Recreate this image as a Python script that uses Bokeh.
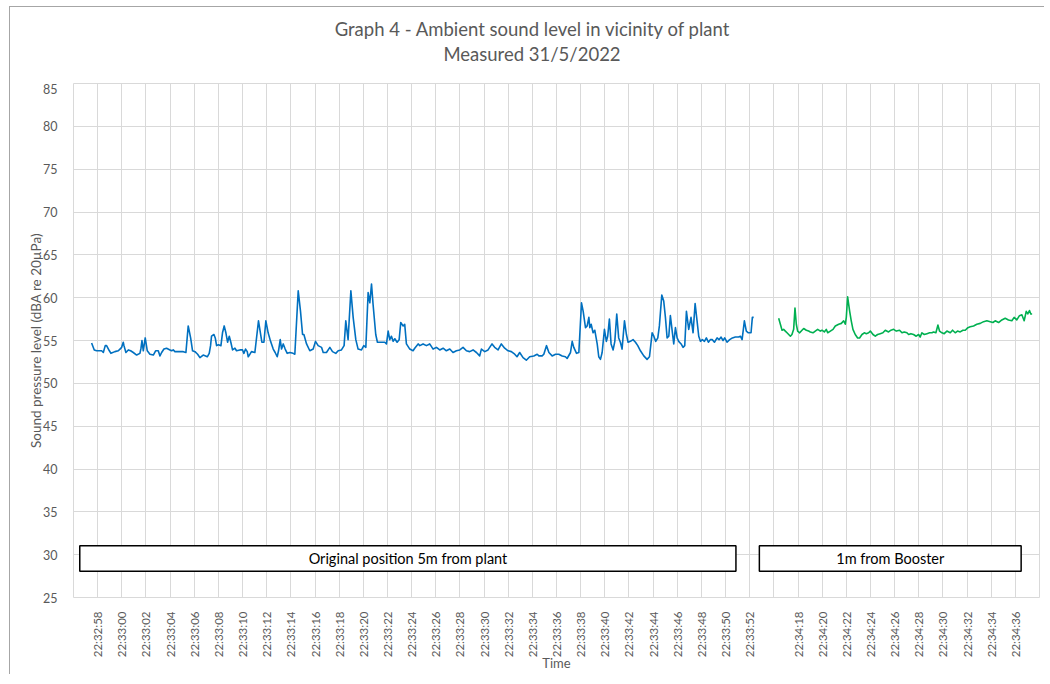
import math
from bokeh.plotting import figure
from bokeh.layouts import column
from bokeh.models import FixedTicker, Div, ColumnDataSource
from bokeh.core.properties import value
from bokeh.embed import file_html
from bokeh.resources import INLINE

# ---------------- data ----------------
# category tick labels (one slot every 2 s; one blank slot where the recording paused)
tick_labels = [
    "22:32:58", "22:33:00", "22:33:02", "22:33:04", "22:33:06", "22:33:08", "22:33:10",
    "22:33:12", "22:33:14", "22:33:16", "22:33:18", "22:33:20", "22:33:22", "22:33:24",
    "22:33:26", "22:33:28", "22:33:30", "22:33:32", "22:33:34", "22:33:36", "22:33:38",
    "22:33:40", "22:33:42", "22:33:44", "22:33:46", "22:33:48", "22:33:50", "22:33:52",
    "",
    "22:34:18", "22:34:20", "22:34:22", "22:34:24", "22:34:26", "22:34:28", "22:34:30",
    "22:34:32", "22:34:34", "22:34:36",
]
y_ticks = [25, 30, 35, 40, 45, 50, 55, 60, 65, 70, 75, 80, 85]

# Original position 5m from plant: seconds after 22:32:58, dBA
blue_t = [-0.50, -0.28, -0.08, 0.19, 0.33, 0.47, 0.63, 0.74, 0.97, 1.10, 1.43, 1.71, 1.85, 1.99, 2.12, 2.18,
          2.34, 2.54, 2.73, 2.95, 3.23, 3.50, 3.59, 3.67, 3.78, 3.94, 4.11, 4.33, 4.61, 4.80, 5.02, 5.16,
          5.30, 5.49, 5.71, 5.99, 6.12, 6.26, 6.40, 6.76, 7.09, 7.31, 7.50, 7.70, 7.86, 8.06, 8.28, 8.47,
          8.74, 8.94, 9.08, 9.24, 9.35, 9.43, 9.63, 9.74, 9.85, 10.01, 10.21, 10.34, 10.48, 10.62, 10.76,
          10.90, 11.03, 11.17, 11.37, 11.50, 11.78, 12.00, 12.11, 12.25, 12.39, 12.47, 12.61, 12.74, 13.02,
          13.32, 13.60, 13.77, 13.93, 14.12, 14.32, 14.54, 14.70, 14.87, 14.98, 15.12, 15.23, 15.37, 15.53,
          15.70, 15.92, 16.19, 16.33, 16.61, 16.80, 16.97, 17.08, 17.30, 17.57,
          17.85, 18.04, 18.26, 18.54, 18.68, 18.95, 19.23, 19.45, 19.72, 19.92, 20.19, 20.41, 20.55, 20.74,
          20.97, 21.16, 21.38, 21.57, 21.85, 22.04, 22.21, 22.40, 22.54, 22.68, 22.81, 23.03, 23.17, 23.37,
          23.78, 23.92, 24.06, 24.19, 24.33, 24.47, 24.61, 24.80, 24.97, 25.10, 25.30, 25.43, 25.57, 25.85,
          26.12, 26.26, 26.54, 26.68, 26.95, 27.23, 27.50, 27.78, 28.06, 28.33, 28.61, 28.88, 29.16, 29.43,
          29.71, 29.99, 30.26, 30.54, 30.81, 31.09, 31.37, 31.64, 31.78, 32.06, 32.33, 32.66, 32.88, 33.16,
          33.43, 33.71, 33.99, 34.26, 34.54, 34.73, 34.95, 35.23, 35.50, 35.78,
          36.12, 36.40, 36.54, 36.81, 36.95, 37.17, 37.37, 37.64, 37.92, 38.19, 38.47, 38.74, 38.88, 39.16,
          39.30, 39.43, 39.66, 39.85, 40.07, 40.21, 40.40, 40.54, 40.68, 40.76, 40.87, 41.03, 41.17, 41.37,
          41.50, 41.64, 41.78, 41.97, 42.13, 42.24, 42.38, 42.52, 42.69, 42.83, 42.99, 43.15, 43.29, 43.43,
          43.63, 43.79, 43.93, 44.12, 44.34, 44.54, 44.73, 44.95, 45.23, 45.50, 45.70, 45.92, 46.06, 46.22,
          46.39, 46.52, 46.72, 46.88, 47.02, 47.16, 47.30, 47.43, 47.60, 47.71, 47.85, 47.99, 48.12, 48.32,
          48.48, 48.62, 48.76, 48.95, 49.14, 49.31, 49.48, 49.64, 49.78, 49.92, 50.08, 50.25, 50.41, 50.58,
          50.74, 50.91, 51.08, 51.30, 51.46, 51.63, 51.79, 51.93, 52.12, 52.34, 52.57, 52.81, 53.09, 53.23,
          53.37, 53.56, 53.72, 53.89, 54.11, 54.22, 54.33]
blue_db = [54.7, 53.9, 53.8, 53.8, 53.8, 53.6, 54.4, 54.4, 53.8, 53.5, 53.7, 53.8, 54.0, 54.2, 54.8, 54.4,
           53.6, 53.9, 53.8, 53.6, 53.3, 53.5, 54.1, 55.0, 53.8, 55.3, 53.8, 53.4, 53.3, 53.8, 53.8, 53.2,
           53.6, 54.0, 54.1, 53.9, 53.8, 53.9, 53.7, 53.7, 53.7, 53.6, 56.7, 55.3, 53.8, 53.7, 53.4, 53.0,
           53.3, 53.2, 53.1, 53.5, 54.4, 55.5, 55.7, 55.3, 54.4, 54.5, 54.4, 55.9, 56.7, 55.9, 54.8,
           55.5, 54.8, 53.9, 54.1, 53.8, 53.9, 53.9, 53.5, 54.0, 53.7, 53.1, 53.4, 53.7, 53.6,
           57.3, 54.8, 54.8, 57.3, 55.9, 54.9, 54.0, 53.6, 53.1, 53.8, 55.1, 54.0, 54.6, 54.0,
           53.5, 53.6, 53.5, 53.4, 60.8, 58.4, 55.7, 55.7, 54.6, 53.8,
           54.0, 54.9, 54.4, 54.2, 53.6, 53.6, 54.2, 53.7, 53.5, 53.8, 53.9, 54.4, 57.3, 55.1,
           60.8, 57.7, 55.1, 54.0, 53.9, 54.4, 54.2, 60.6, 59.4, 61.6, 59.2, 55.7, 54.8, 54.8,
           54.8, 54.6, 56.1, 55.1, 55.5, 54.9, 55.2, 54.8, 55.1, 57.1, 56.7, 56.9, 54.6, 54.0,
           53.8, 54.1, 54.6, 54.4, 54.6, 54.4, 54.6, 54.0, 54.2, 53.9, 54.1, 53.8, 54.0, 53.6,
           53.8, 53.9, 54.2, 53.8, 53.7, 53.9, 53.6, 53.2, 54.0, 53.7, 53.9, 54.6, 54.2, 53.9,
           54.6, 54.1, 53.8, 53.7, 53.4, 53.1, 53.6, 53.0, 52.7, 53.1,
           53.2, 53.4, 53.2, 53.2, 53.4, 54.4, 53.6, 53.2, 53.4, 53.4, 53.2, 53.1, 52.9, 53.6,
           54.9, 54.2, 53.5, 53.6, 59.4, 58.4, 56.5, 56.7, 57.7, 56.5, 56.9, 55.9, 56.2, 54.6,
           53.1, 52.8, 53.6, 56.3, 54.9, 55.5, 57.5, 54.6, 53.9, 54.9, 58.1, 55.3, 54.8, 54.0,
           57.3, 55.7, 54.8, 54.9, 55.1, 54.8, 54.4, 53.8, 53.2, 52.8, 53.1, 55.9, 55.5, 54.9,
           55.3, 56.7, 60.3, 59.6, 57.7, 55.3, 55.5, 57.9, 55.9, 54.6, 56.5, 55.3, 54.9, 54.6,
           54.2, 54.4, 58.4, 56.3, 57.7, 55.9, 59.3, 57.3, 55.5, 54.9, 55.1, 54.9, 55.3, 54.8,
           55.1, 55.1, 54.8, 55.3, 55.1, 55.4, 55.0, 55.3, 54.8, 55.1, 55.3, 55.4, 55.4, 55.5,
           55.1, 57.3, 56.1, 55.9, 55.9, 57.7, 57.7]

# 1m from Booster: seconds after 22:34:18, dBA
green_t = [-1.60, -1.46, -1.32, -1.19, -1.05, -0.91, -0.63, -0.50, -0.36, -0.25, -0.14, -0.03, 0.14, 0.33,
           0.47, 0.69, 0.88, 1.02, 1.24, 1.43, 1.63, 1.85, 1.99, 2.18, 2.34, 2.46, 2.68, 2.90, 3.09, 3.37,
           3.59, 3.78, 3.92, 4.00, 4.11, 4.28, 4.41, 4.55, 4.74, 4.94, 5.10, 5.30, 5.49, 5.66, 5.85, 5.99,
           6.21, 6.40, 6.59, 6.81, 7.03, 7.23, 7.50, 7.70, 7.92, 8.14, 8.41, 8.61, 8.80, 9.02, 9.16, 9.35,
           9.57, 9.79, 9.99, 10.12, 10.26, 10.46, 10.68, 10.90, 11.09, 11.23, 11.42, 11.59, 11.72, 11.92,
           12.11, 12.33, 12.61, 12.80, 13.02, 13.21, 13.43, 13.66, 13.85, 14.07, 14.26, 14.54, 14.81, 15.09,
           15.37, 15.64, 15.92, 16.14, 16.33, 16.61, 16.88, 17.16, 17.43, 17.71, 17.90, 18.12, 18.34, 18.54,
           18.73, 18.90, 19.03, 19.17, 19.28, 19.39]
green_db = [57.6, 56.9, 56.2, 56.3, 56.1, 55.9, 55.5, 55.7, 56.3, 58.8, 56.9, 56.1, 55.9, 56.2,
            56.4, 56.2, 56.1, 56.0, 55.9, 56.1, 56.3, 56.1, 56.2, 56.0, 56.3, 55.9, 56.1, 56.3, 56.7, 56.9,
            57.0, 57.3, 56.9, 57.7, 60.1, 58.4, 57.3, 56.3, 55.7, 55.3, 55.3, 55.7, 55.9, 55.8, 55.9, 56.1,
            55.7, 55.5, 55.7, 55.8, 55.9, 56.2, 56.0, 56.2, 56.3, 56.1, 56.2, 55.9, 56.0, 55.9, 55.7, 55.8,
            55.7, 55.5, 55.7, 55.4, 55.9, 55.7, 55.8, 55.9, 55.9, 56.0, 55.9, 56.8, 56.1, 55.9,
            55.8, 56.1, 55.9, 56.2, 55.9, 56.1, 56.0, 56.2, 56.2, 56.5, 56.6, 56.7, 56.9, 57.0,
            57.2, 57.3, 57.2, 57.1, 57.3, 57.1, 57.4, 57.6, 57.4, 57.3, 57.7, 57.4, 57.9, 58.0,
            57.3, 58.4, 58.1, 58.5, 58.1, 58.1]

segment_names = ["Original position 5m from plant", "1m from Booster"]
title_lines = ["Graph 4 - Ambient sound level in vicinity of plant", "Measured 31/5/2022"]

# ---------------- mapping to category slots ----------------
SLOT_SECONDS = 2.0
green_first_slot = tick_labels.index("22:34:18")
blue_x = [t / SLOT_SECONDS for t in blue_t]
green_x = [green_first_slot + t / SLOT_SECONDS for t in green_t]

FONT = "Lato"
GREY = "#595959"
GRID = "#d9d9d9"
TOTAL_W = 1034

# ---------------- title block ----------------
title_div = Div(
    text=("<div style=\"box-sizing:border-box; width:%dpx; height:76px; padding:10px 0 0 10px; "
          "text-align:center; line-height:25px; font-family:Lato; font-size:18.5px; "
          "color:%s; white-space:nowrap;\">%s</div>")
         % (TOTAL_W, GREY, "<br>".join(title_lines)),
    width=TOTAL_W, height=76, margin=0)

# ---------------- plot ----------------
p = figure(frame_width=966, frame_height=514,
           x_range=(-1, len(tick_labels)), y_range=(25, 85),
           output_backend="svg", toolbar_location=None,
           min_border_left=63, min_border_right=5, min_border_top=0, min_border_bottom=72,
           background_fill_color="white", border_fill_color="white")
p.title.text = ""

p.outline_line_color = GRID
p.xgrid.grid_line_color = GRID
p.ygrid.grid_line_color = GRID

p.xaxis.ticker = FixedTicker(ticks=list(range(len(tick_labels))))
p.xaxis.major_label_overrides = {i: lab for i, lab in enumerate(tick_labels)}
p.xaxis.major_label_orientation = math.pi / 2
p.yaxis.ticker = FixedTicker(ticks=y_ticks)

for ax in (p.xaxis[0], p.yaxis[0]):
    ax.axis_line_color = None
    ax.major_tick_line_color = None
    ax.minor_tick_line_color = None
    ax.major_label_text_font = FONT
    ax.major_label_text_color = GREY
    ax.axis_label_text_font = FONT
    ax.axis_label_text_color = GREY
    ax.axis_label_text_font_style = "normal"

p.xaxis.major_label_text_font_size = "11.5px"
p.xaxis.major_label_standoff = 8
p.xaxis.axis_label = "Time"
p.xaxis.axis_label_text_font_size = "13px"
p.xaxis.axis_label_standoff = -5
p.yaxis.major_label_text_font_size = "12.5px"
p.yaxis.major_label_standoff = 10
p.yaxis.axis_label = "Sound pressure level (dBA re 20µPa)"
p.yaxis.axis_label_text_font_size = "13.5px"
p.yaxis.axis_label_standoff = -4

p.line(blue_x, blue_db, line_color="#0070C0", line_width=1.6, line_join="round")
p.line(green_x, green_db, line_color="#00B050", line_width=1.6, line_join="round")

# segment label boxes
box_src = ColumnDataSource(dict(
    left=[-0.74, 27.4], right=[26.43, 38.24], bottom=[28.05, 28.05], top=[31.05, 31.05],
    cx=[12.85, 32.82], cy=[29.55, 29.55], name=segment_names))
p.quad(left="left", right="right", bottom="bottom", top="top", source=box_src,
       fill_color="white", line_color="black", line_width=1.5)
p.text(x="cx", y="cy", text="name", source=box_src, text_align="center", text_baseline="middle",
       text_font=value(FONT), text_font_size="14.5px", text_color="black")

layout = column(title_div, p, spacing=0)
layout.styles = {"margin-left": "9px", "margin-top": "6px", "background-color": "white",
                 "border-left": "1px solid #a6a6a6", "border-top": "1px solid #a6a6a6"}

open("out.html", "w").write(file_html(layout, INLINE))
